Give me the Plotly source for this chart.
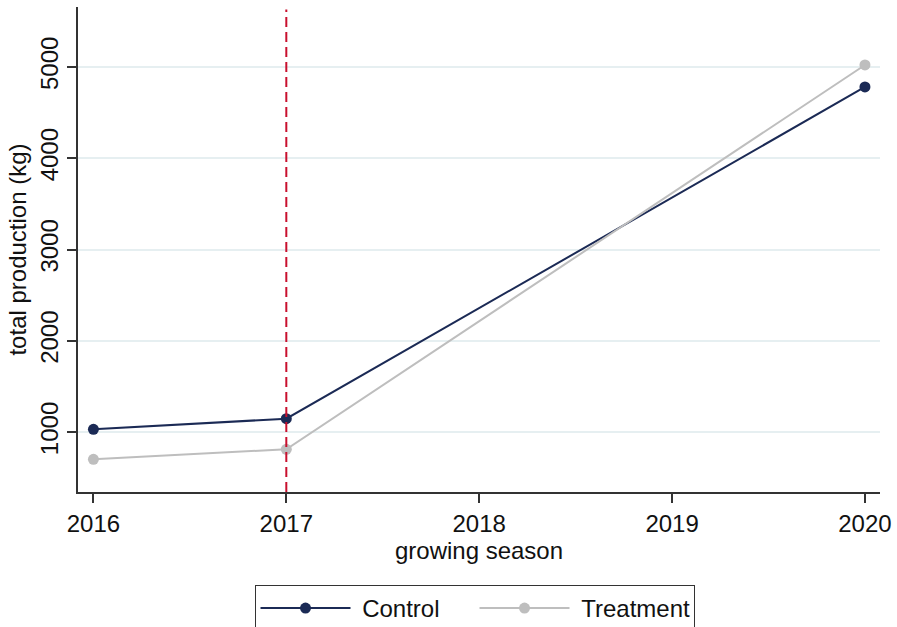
import plotly.graph_objects as go

years = [2016, 2017, 2020]
control = [1030, 1146, 4781]
treatment = [701, 811, 5022]
x_ticks = [2016, 2017, 2018, 2019, 2020]
y_ticks = [1000, 2000, 3000, 4000, 5000]
intervention_year = 2017
series_names = ["Control", "Treatment"]

FONT = "Liberation Sans, Arial, sans-serif"
NBSP = "\u00a0"

fig = go.Figure()
fig.add_trace(go.Scatter(x=years, y=control, mode="lines+markers", name=NBSP + series_names[0],
                         line=dict(color="#1b2a55", width=2),
                         marker=dict(size=11, color="#1b2a55")))
fig.add_trace(go.Scatter(x=years, y=treatment, mode="lines+markers", name=NBSP + series_names[1],
                         line=dict(color="#bebebe", width=2),
                         marker=dict(size=11, color="#bebebe")))

fig.add_shape(type="line", xref="x", yref="paper", x0=intervention_year, x1=intervention_year,
              y0=0, y1=0.995, line=dict(color="#c8102e", width=2, dash="10px,5px"))

fig.update_layout(
    width=897, height=627,
    margin=dict(l=78, r=17, t=7, b=135, autoexpand=False),
    paper_bgcolor="white", plot_bgcolor="white",
    font=dict(family=FONT, size=24, color="#111111"),
    showlegend=True,
    legend=dict(orientation="h", x=0.4944, xanchor="center", y=-0.1918, yanchor="top",
                bordercolor="#333333", borderwidth=1, itemwidth=90,
                font=dict(size=24), traceorder="normal", entrywidth=114),
    xaxis=dict(range=[2015.92, 2020.078], tickvals=x_ticks, ticktext=[str(v) for v in x_ticks],
               showgrid=False, zeroline=False, showline=True, linecolor="#333333", linewidth=1.5,
               ticks="outside", ticklen=9, tickcolor="#333333", tickwidth=1.5,
               title=dict(text="growing season", standoff=7, font=dict(size=24)),
               tickfont=dict(size=24), automargin=False),
    yaxis=dict(range=[343, 5657], tickvals=y_ticks, showgrid=True, gridcolor="#e6eff1", gridwidth=1.5,
               zeroline=False, showline=True, linecolor="#333333", linewidth=1.5,
               ticks="outside", ticklen=9, tickcolor="#333333", tickwidth=1.5, tickangle=-90,
               title=dict(text="total production (kg)", standoff=2, font=dict(size=24)),
               tickfont=dict(size=24), automargin=False),
)

fig.write_html("out.html")
